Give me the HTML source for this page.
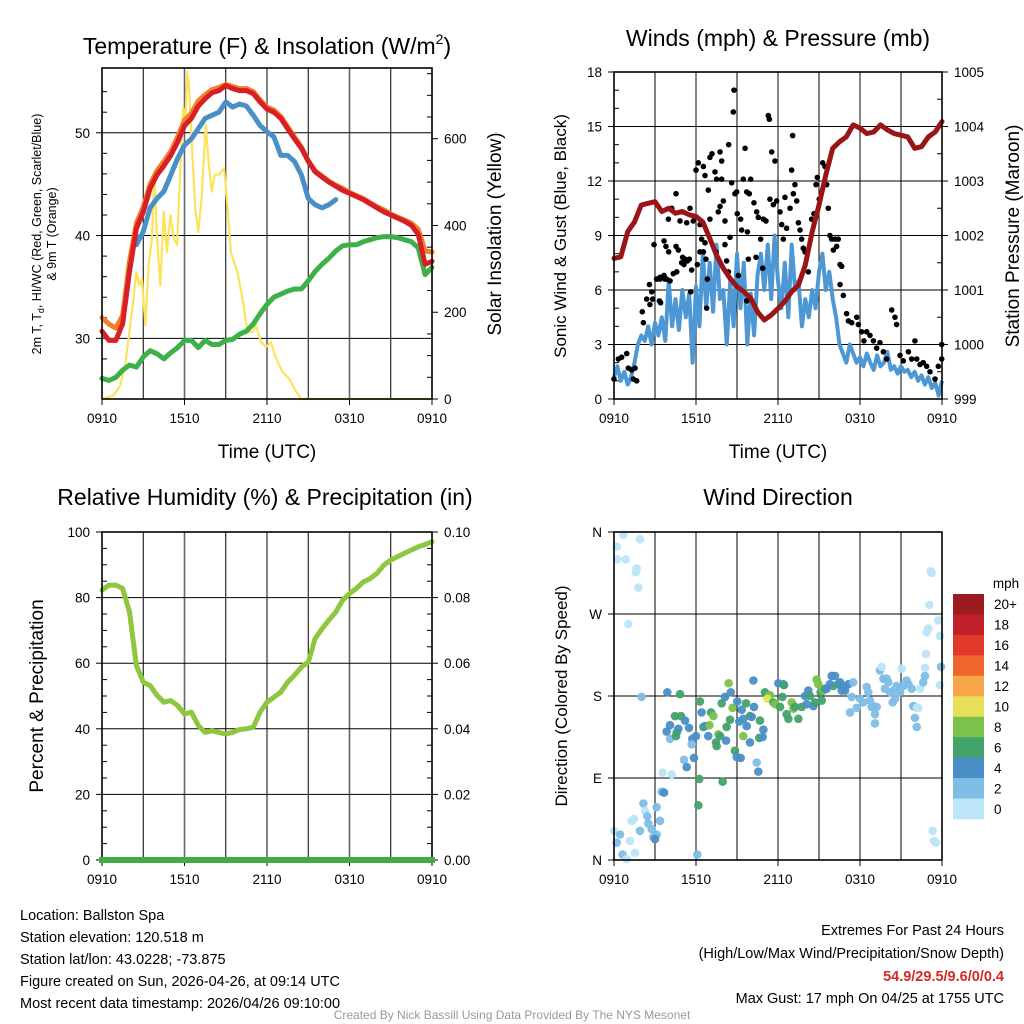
<!DOCTYPE html>
<html><head><meta charset="utf-8"><style>
html,body{margin:0;padding:0;background:#fff;}
svg{display:block;font-family:"Liberation Sans",sans-serif;}
</style></head><body>
<svg id="root" width="1024" height="1024" viewBox="0 0 1024 1024">
<rect width="1024" height="1024" fill="#fff"/>
<g id="layer"></g>
<text x="267" y="54" font-size="23" text-anchor="middle">Temperature (F) &amp; Insolation (W/m<tspan font-size="14" dy="-10">2</tspan><tspan dy="10">)</tspan></text>
<text x="778" y="46" font-size="23" text-anchor="middle">Winds (mph) &amp; Pressure (mb)</text>
<text x="265" y="505" font-size="23" text-anchor="middle">Relative Humidity (%) &amp; Precipitation (in)</text>
<text x="778" y="505" font-size="23" text-anchor="middle">Wind Direction</text>
<text x="267" y="458" font-size="19" text-anchor="middle">Time (UTC)</text>
<text x="778" y="458" font-size="19" text-anchor="middle">Time (UTC)</text>
<text transform="translate(41,234) rotate(-90)" font-size="12.5" text-anchor="middle">2m T, T<tspan font-size="9" dy="3">d</tspan><tspan dy="-3">, HI/WC (Red, Green, Scarlet/Blue)</tspan></text>
<text transform="translate(56,234) rotate(-90)" font-size="12.5" text-anchor="middle">&amp; 9m T (Orange)</text>
<text transform="translate(501,234) rotate(-90)" font-size="19" text-anchor="middle">Solar Insolation (Yellow)</text>
<text transform="translate(566,236) rotate(-90)" font-size="17" text-anchor="middle">Sonic Wind &amp; Gust (Blue, Black)</text>
<text transform="translate(1019,236) rotate(-90)" font-size="19" text-anchor="middle">Station Pressure (Maroon)</text>
<text transform="translate(43,696) rotate(-90)" font-size="19" text-anchor="middle">Percent &amp; Precipitation</text>
<text transform="translate(567,696) rotate(-90)" font-size="17" text-anchor="middle">Direction (Colored By Speed)</text>
<g font-size="14.5">
<text x="20" y="920">Location: Ballston Spa</text>
<text x="20" y="942">Station elevation: 120.518 m</text>
<text x="20" y="964">Station lat/lon: 43.0228; -73.875</text>
<text x="20" y="986">Figure created on Sun, 2026-04-26, at 09:14 UTC</text>
<text x="20" y="1008">Most recent data timestamp: 2026/04/26 09:10:00</text>
</g>
<g font-size="14.5" text-anchor="end">
<text x="1004" y="935">Extremes For Past 24 Hours</text>
<text x="1004" y="958">(High/Low/Max Wind/Precipitation/Snow Depth)</text>
<text x="1004" y="981" fill="#d42a2a" font-weight="bold">54.9/29.5/9.6/0/0.4</text>
<text x="1004" y="1003">Max Gust: 17 mph On 04/25 at 1755 UTC</text>
</g>
<text x="512" y="1019" font-size="12" fill="#999" text-anchor="middle">Created By Nick Bassill Using Data Provided By The NYS Mesonet</text>
</svg>
<script>
// ---------- data ----------
const xTickLabels = ["0910","1510","2110","0310","0910"];
const tempRed = [30.7,29.8,29.8,31.4,36.5,40.7,42.3,44.6,45.9,46.8,47.8,49.1,50.7,51.4,52.6,53.3,53.9,54.1,54.6,54.3,54.1,54.1,53.8,53.0,52.3,52.0,51.4,50.4,49.4,48.5,47.2,46.2,45.7,45.2,44.8,44.4,44.1,43.8,43.5,43.1,42.7,42.3,42.0,41.7,41.4,41.0,40.1,37.2,37.5];
const tempOrange = [32.0,31.4,31.0,32.2,37.5,41.2,42.8,45.0,46.3,47.2,48.2,49.6,51.2,51.9,53.1,53.7,54.2,54.4,54.7,54.5,54.3,54.3,54.0,53.2,52.5,52.2,51.6,50.6,49.6,48.6,47.3,46.3,45.8,45.3,44.9,44.6,44.2,43.9,43.6,43.2,42.8,42.5,42.1,41.8,41.5,41.2,40.6,38.5,38.4];
const tempBlue = [null,null,null,null,null,39.1,40.4,42.7,43.6,44.3,45.9,47.5,48.8,49.4,50.4,51.4,51.7,52.0,53.0,52.5,52.8,52.6,51.7,50.7,50.1,49.6,47.8,47.8,47.2,45.9,43.6,43.0,42.7,43.0,43.5,null,42.8,null,null,null,null,41.4,null,null,null,null,null,null,null];
const dewGreen = [26.1,25.9,26.2,26.9,27.4,27.2,28.2,28.8,28.5,28.0,28.6,29.1,29.8,29.8,29.1,29.8,29.4,29.4,29.8,29.9,30.4,30.7,31.4,32.4,33.3,34.0,34.3,34.6,34.8,34.8,35.6,36.5,37.2,37.8,38.5,39.0,39.1,39.1,39.4,39.6,39.8,39.9,39.9,39.8,39.6,39.4,38.8,36.2,36.9];
const solarHours = [0,0.83,1.32,1.68,2.05,2.29,2.49,2.73,2.9,3.15,3.39,3.63,3.8,4.0,4.24,4.49,4.73,4.98,5.22,5.46,5.71,5.9,6.07,6.2,6.32,6.56,6.8,7.0,7.24,7.54,7.73,7.98,8.22,8.51,8.88,9.12,9.37,9.85,10.22,10.59,10.95,11.2,11.56,11.93,12.29,12.66,13.15,13.63,14.0,14.49,24];
const solarVals = [0,8,31,77,170,231,293,262,278,170,308,370,524,370,262,432,339,424,370,355,540,671,648,755,725,570,432,385,462,632,555,478,517,517,532,447,339,293,231,154,154,170,131,120,131,93,62,46,23,0,0];
const windSpeed = [1.2,1.8,1.0,1.5,0.8,1.2,2.0,3.0,3.5,3.2,4.0,3.0,4.2,3.5,4.5,3.2,6.5,4.0,5.5,3.8,6.0,4.5,5.8,2.0,6.2,4.0,8.0,5.0,7.5,4.8,8.5,5.5,6.0,3.0,6.5,4.0,8.0,5.0,7.5,3.0,5.8,3.5,6.8,8.0,6.0,8.5,5.5,9.0,6.5,5.0,7.5,4.5,8.5,6.0,6.5,4.0,5.5,4.5,6.0,5.0,7.0,8.0,6.0,7.0,5.5,4.5,3.0,2.5,2.0,3.0,2.5,2.0,2.3,1.8,2.5,2.0,1.6,2.4,1.8,2.0,2.6,1.6,1.8,1.4,1.8,1.5,1.6,1.2,1.5,1.0,1.3,0.8,1.2,0.6,0.9,0.2,1.0];
const pressure = [1001.58,1001.61,1002.07,1002.25,1002.56,1002.59,1002.62,1002.44,1002.50,1002.41,1002.44,1002.38,1002.35,1002.25,1001.95,1001.64,1001.40,1001.21,1001.06,1000.97,1000.85,1000.60,1000.45,1000.54,1000.66,1000.79,1000.97,1001.09,1001.46,1002.07,1002.56,1003.11,1003.60,1003.72,1003.81,1004.03,1003.97,1003.87,1003.90,1004.03,1003.94,1003.87,1003.84,1003.81,1003.60,1003.63,1003.81,1003.90,1004.09];
const gustHours = [0,0.32,0.56,0.93,1.05,1.29,1.54,1.66,1.41,2.07,2.15,2.39,2.59,2.76,2.83,3.32,3.41,3.12,3.37,3.66,3.85,4.10,2.93,3.66,3.80,4.00,4.54,4.71,5.02,5.20,5.37,5.51,5.12,4.95,4.34,5.61,6.10,6.29,6.41,6.00,6.17,6.54,6.66,6.90,7.02,7.17,7.39,7.51,7.63,7.76,7.88,8.00,8.12,7.76,7.88,8.39,8.61,8.73,8.78,8.85,8.98,9.02,9.27,9.46,9.59,9.71,9.90,10.00,10.24,10.44,10.56,10.73,10.93,11.12,11.29,11.37,11.41,11.54,11.66,11.78,11.90,12.15,12.27,12.39,12.51,12.63,12.88,13.00,13.07,13.12,13.24,13.37,13.49,13.61,13.73,13.85,13.98,14.22,14.46,14.63,14.78,14.88,15.02,15.27,15.44,15.56,15.68,15.80,15.93,16.05,16.17,16.29,16.41,16.54,16.66,16.54,16.78,17.02,17.15,17.39,17.76,17.88,18.12,18.29,18.49,18.73,18.98,19.22,19.46,19.71,19.95,20.32,20.56,20.68,20.93,21.17,21.54,21.78,22.02,22.15,22.39,22.63,22.88,23.12,23.49,23.73,23.98,23.98,6.29,6.66,7.02,5.56,5.80,5.32,4.83,4.95,4.22,4.54,3.98,8.12,8.49,9.10,9.83,10.88,10.39,9.34,9.76,8.37,8.24,7.46,6.73,6.54,6.83,5.68,9.71,6.78,4.59,3.37,3.73,2.63];
const gustVals = [1.1,2.2,2.3,2.5,1.7,1.6,1.7,1.0,1.1,4.8,4.2,5.5,6.3,5.9,5.5,5.4,5.3,6.6,6.7,6.8,6.6,6.5,8.5,8.7,8.4,8.1,8.4,8.2,7.8,7.7,7.6,7.7,7.4,7.5,6.9,5.9,7.4,8.1,8.8,12.6,13.0,12.8,12.3,11.5,13.3,13.5,12.5,12.1,10.3,10.6,12.1,10.9,9.8,13.6,13.1,14.0,11.9,15.8,17.0,11.3,11.4,10.2,9.9,12.1,13.8,11.4,11.3,12.1,10.8,10.3,10.0,8.8,9.9,9.8,15.6,15.4,11.0,13.6,10.7,13.1,10.9,10.3,9.6,8.8,11.1,9.4,10.5,12.6,14.5,11.3,11.8,10.9,9.7,9.3,8.8,8.3,8.1,7.0,9.9,10.2,11.8,12.2,11.0,13.0,12.8,11.8,10.5,9.0,8.8,8.2,8.8,8.4,8.8,7.4,7.3,6.3,5.7,4.7,4.3,4.2,4.5,4.1,3.7,3.2,3.7,3.5,3.2,2.8,3.1,2.6,2.2,4.9,4.5,4.1,2.4,2.1,2.6,2.2,3.2,2.2,1.9,2.0,1.8,1.5,1.1,1.8,3.0,2.2,9.6,8.6,9.9,10.5,9.8,9.7,9.8,10.3,10.5,11.3,9.9,8.5,8.9,6.8,7.7,7.2,7.8,9.3,9.2,7.0,7.6,8.1,7.7,8.1,6.6,7.1,5.4,5.0,7.0,6.6,6.6,5.2];
const relHum = [82.3,83.8,83.8,82.8,75.6,59.3,54.2,53.2,50.2,48.1,48.6,47.1,44.5,45.1,41.0,38.9,39.4,38.9,38.4,38.9,39.8,40.0,40.5,45.1,48.1,49.6,51.2,54.2,56.3,58.8,60.3,67.5,70.5,73.1,75.6,79.2,81.2,82.8,84.8,85.8,87.4,89.9,91.4,92.5,93.5,94.5,95.5,96.2,97.0];
const precip = [0,0,0,0,0,0,0,0,0,0,0,0,0,0,0,0,0,0,0,0,0,0,0,0,0,0,0,0,0,0,0,0,0,0,0,0,0,0,0,0,0,0,0,0,0,0,0,0,0];
const dirHours = [0.68,0.20,0.24,0.85,1.66,1.61,1.90,1.78,1.05,0.0,0.44,0.2,0.63,0.93,1.17,1.29,1.46,1.54,1.90,2.15,2.27,2.44,2.51,2.76,2.88,3.12,3.0,3.37,3.12,3.49,3.66,3.56,4.22,6.10,2.02,3.90,4.83,4.46,4.90,5.20,4.10,3.85,4.59,4.71,5.49,4.10,4.54,5.73,5.68,6.0,5.85,5.12,5.32,6.29,6.41,7.10,7.27,6.54,6.66,6.98,6.90,7.46,7.63,7.76,7.51,8.20,8.24,8.49,8.68,7.88,8.12,8.54,8.39,9.02,9.34,9.66,9.71,9.46,9.17,8.85,8.98,9.27,9.95,10.07,10.24,10.68,10.93,10.63,10.88,9.46,9.95,10.44,10.56,10.20,6.24,7.95,6.17,11.05,11.41,11.22,11.66,11.80,12.02,12.39,12.44,12.32,12.15,12.63,12.76,13.0,13.12,13.24,13.49,13.73,13.98,14.10,14.22,14.34,14.59,14.71,14.83,14.95,15.12,15.32,15.44,15.20,15.56,15.93,16.17,16.05,16.41,16.54,16.66,16.90,17.15,17.51,17.39,16.78,15.80,17.27,17.76,18.0,18.24,18.49,18.61,18.73,18.98,19.10,18.85,19.22,19.10,19.46,19.59,19.71,19.95,20.07,19.83,20.20,20.44,20.68,20.80,20.93,20.56,20.39,21.05,21.17,21.41,21.54,21.78,21.90,22.02,22.15,22.27,22.02,22.15,22.39,22.63,22.76,22.76,23.17,23.24,23.07,23.73,22.88,23.0,23.85,22.83,23.93,23.85,23.32,23.41,23.56];
const dirVals = [357,344,330,330,320,316,352,299,259,32,28,19,6,1,21,43,45,8,32,62,54,48,40,34,25,28,23,43,58,75,74,96,94,6,179,184,182,158,158,153,148,141,140,144,145,133,136,133,127,136,112,110,102,174,162,162,158,146,147,148,136,129,138,136,125,131,146,154,167,172,179,184,194,174,165,172,147,155,152,120,113,112,158,157,168,153,143,134,135,136,129,107,97,197,89,86,60,184,181,177,173,171,194,193,192,179,168,160,155,173,166,168,155,168,180,171,186,180,169,173,198,193,184,186,188,175,188,202,202,191,193,195,186,186,193,195,179,191,193,162,167,177,173,190,184,175,169,160,168,168,150,208,212,199,199,195,188,184,186,191,188,184,177,173,210,191,197,193,188,169,168,167,167,156,146,188,195,202,211,317,315,280,263,250,254,246,226,212,192,32,21,19];
const dirSpeed = [1,1,1,1,1,1,1,1,1,1,3,3,3,1,1,1,1,1,3,3,1,3,3,3,3,3,5,3,3,3,5,1,1,3,3,5,7,7,7,5,5,5,7,5,5,3,7,5,3,5,5,3,5,7,5,7,9,7,5,9,5,7,9,7,7,5,7,7,9,7,5,5,9,5,5,7,5,5,5,7,5,5,7,5,5,7,5,7,5,9,5,3,5,5,7,7,7,7,9,11,7,9,5,5,7,7,7,7,7,9,9,7,7,7,5,5,5,7,5,7,9,9,7,9,7,7,5,5,5,7,7,5,5,5,5,3,3,5,5,3,3,3,3,3,3,3,3,3,3,3,3,3,1,3,3,3,3,3,3,3,3,3,3,3,1,3,3,3,3,3,3,1,1,3,3,1,3,3,1,1,1,1,1,1,1,1,1,3,1,1,1,1];
const speedLabels = ["20+","18","16","14","12","10","8","6","4","2","0"];
const speedColors = ["#9b1b1f","#c0202a","#e0392c","#f0652b","#f7a64a","#e8e05a","#7cc24a","#42a26a","#4a8ec6","#7fbde6","#bce5f8"];

// ---------- helpers ----------
const NS = "http://www.w3.org/2000/svg";
const layer = document.getElementById("layer");
function mk(tag, attrs, parent){ const e=document.createElementNS(NS,tag); for(const k in attrs) e.setAttribute(k,attrs[k]); (parent||layer).appendChild(e); return e; }
function lin(d0,d1,r0,r1){ return v => r0+(v-d0)/(d1-d0)*(r1-r0); }
function pathD(xs, ys, xf, yf){ let d="", pen=false; for(let i=0;i<xs.length;i++){ if(ys[i]===null||ys[i]===undefined){pen=false;continue;} d+=(pen?"L":"M")+xf(xs[i]).toFixed(1)+","+yf(ys[i]).toFixed(1); pen=true; } return d; }
function seq(n, step){ const a=[]; for(let i=0;i<n;i++) a.push(i*step); return a; }
const halfHours = seq(49,0.5);
const quarterHours = seq(97,0.25);

function panel(p){
  const g = mk("g",{});
  
  
  const xs = lin(0,24,p.x0,p.x1);
  // vertical grid every 3h
  for(let h=3; h<24; h+=3){
    const major = h%6===0;
    const l = mk("line",{x1:xs(h),x2:xs(h),y1:p.y0,y2:p.y1,stroke:major?"#666":"#000","stroke-width":major?1.6:1},g);
    
    
  }
  // horizontal grid
  p.gridY.forEach(v=>{
    const y=p.ly(v);
    const l = mk("line",{x1:p.x0,x2:p.x1,y1:y,y2:y,stroke:"#000","stroke-width":1},g);
    
    
  });
  // x ticks/labels
  xTickLabels.forEach((lab,i)=>{
    const x=xs(i*6);
    mk("line",{x1:x,x2:x,y1:p.y1,y2:p.y1+6,stroke:"#000"},g);
    const t=mk("text",{x:x,y:p.y1+24,"font-size":13.5,"text-anchor":"middle"},g); t.textContent=lab;
    
    
  });
  p.leftTicks.forEach(v=>{
    const y=p.ly(typeof v==="number"?v:v[0]);
    mk("line",{x1:p.x0-6,x2:p.x0,y1:y,y2:y,stroke:"#000"},g);
    const t=mk("text",{x:p.x0-12,y:y+5,"font-size":13.5,"text-anchor":"end"},g); t.textContent=typeof v==="number"?v:v[1];
    
    
  });
  (p.leftMinor||[]).forEach(v=>{ const y=p.ly(v); mk("line",{x1:p.x0,x2:p.x0+5,y1:y,y2:y,stroke:"#000"},g); });
  if(p.rightTicks){
    p.rightTicks.forEach(v=>{
      const y=p.ry(v[0]);
      mk("line",{x1:p.x1,x2:p.x1+6,y1:y,y2:y,stroke:"#000"},g);
      const t=mk("text",{x:p.x1+12,y:y+5,"font-size":13.5,"text-anchor":"start"},g); t.textContent=v[1];
      
      
    });
    (p.rightMinor||[]).forEach(v=>{ const y=p.ry(v); mk("line",{x1:p.x1-5,x2:p.x1,y1:y,y2:y,stroke:"#000"},g); });
  }
  return {g, xs};
}
function frame(p,g){
  const r=mk("rect",{x:p.x0,y:p.y0,width:p.x1-p.x0,height:p.y1-p.y0,fill:"none",stroke:"#000","stroke-width":1.6},g);
  
  
}

// ---------- panel 1: temperature ----------
{
  const p={name:"temperature",x0:102,x1:432,y0:68,y1:399};
  p.ly=lin(24.1,56.3,p.y1,p.y0); p.ry=lin(0,763,p.y1,p.y0);
  p.gridY=[30,40,50]; p.leftTicks=[30,40,50]; p.leftMinor=[26,28,32,34,36,38,42,44,46,48,52,54];
  p.rightTicks=[[0,"0"],[200,"200"],[400,"400"],[600,"600"]]; p.rightMinor=[50,100,150,250,300,350,450,500,550,650,700,750];
  const {g,xs}=panel(p);
  const sol=mk("path",{d:pathD(solarHours,solarVals,xs,p.ry),fill:"none",stroke:"#fde35a","stroke-width":2.2,"stroke-linejoin":"round"},g);
  
  
  const grn=mk("path",{d:pathD(halfHours,dewGreen,xs,p.ly),fill:"none",stroke:"#3eb04a","stroke-width":5,"stroke-linejoin":"round","stroke-linecap":"round"},g);
  
  
  const blu=mk("path",{d:pathD(halfHours,tempBlue,xs,p.ly),fill:"none",stroke:"#4a90c8","stroke-width":5,"stroke-linejoin":"round","stroke-linecap":"round"},g);
  
  
  const org=mk("path",{d:pathD(halfHours,tempOrange,xs,p.ly),fill:"none",stroke:"#f47f2a","stroke-width":5,"stroke-linejoin":"round","stroke-linecap":"round"},g);
  
  
  const red=mk("path",{d:pathD(halfHours,tempRed,xs,p.ly),fill:"none",stroke:"#d61f26","stroke-width":5,"stroke-linejoin":"round","stroke-linecap":"round"},g);
  
  
  frame(p,g);
}
// ---------- panel 2: winds ----------
{
  const p={name:"winds",x0:614,x1:942,y0:72,y1:399};
  p.ly=lin(0,18,p.y1,p.y0); p.ry=lin(999,1005,p.y1,p.y0);
  p.gridY=[3,6,9,12,15]; p.leftTicks=[0,3,6,9,12,15,18]; p.leftMinor=[1,2,4,5,7,8,10,11,13,14,16,17];
  p.rightTicks=[[999,"999"],[1000,"1000"],[1001,"1001"],[1002,"1002"],[1003,"1003"],[1004,"1004"],[1005,"1005"]];
  p.rightMinor=[999.5,1000.5,1001.5,1002.5,1003.5,1004.5];
  const {g,xs}=panel(p);
  const w=mk("path",{d:pathD(quarterHours,windSpeed,xs,p.ly),fill:"none",stroke:"#4d98d4","stroke-width":4,"stroke-linejoin":"round"},g);
  
  
  for(let i=0;i<gustHours.length;i++){
    const c=mk("circle",{cx:xs(gustHours[i]),cy:p.ly(gustVals[i]),r:2.8,fill:"#000"},g);
    
    
  }
  const pr=mk("path",{d:pathD(halfHours,pressure,xs,p.ry),fill:"none",stroke:"#9b1416","stroke-width":5,"stroke-linejoin":"round","stroke-linecap":"round"},g);
  
  
  frame(p,g);
}
// ---------- panel 3: RH ----------
{
  const p={name:"humidity",x0:102,x1:432,y0:532,y1:860};
  p.ly=lin(0,100,p.y1,p.y0); p.ry=lin(0,0.1,p.y1,p.y0);
  p.gridY=[20,40,60,80]; p.leftTicks=[0,20,40,60,80,100]; p.leftMinor=[5,10,15,25,30,35,45,50,55,65,70,75,85,90,95];
  p.rightTicks=[[0,"0.00"],[0.02,"0.02"],[0.04,"0.04"],[0.06,"0.06"],[0.08,"0.08"],[0.1,"0.10"]];
  p.rightMinor=[0.005,0.01,0.015,0.025,0.03,0.035,0.045,0.05,0.055,0.065,0.07,0.075,0.085,0.09,0.095];
  const {g,xs}=panel(p);
  const rh=mk("path",{d:pathD(halfHours,relHum,xs,p.ly),fill:"none",stroke:"#8dc63f","stroke-width":5,"stroke-linejoin":"round","stroke-linecap":"round"},g);
  
  
  frame(p,g);
  const pc=mk("path",{d:pathD(halfHours,precip,xs,p.ry),fill:"none",stroke:"#3fac45","stroke-width":6,"stroke-linecap":"square"},g);
  
  
}
// ---------- panel 4: direction ----------
{
  const p={name:"direction",x0:614,x1:942,y0:532,y1:860};
  p.ly=lin(0,360,p.y1,p.y0);
  p.gridY=[90,180,270]; p.leftTicks=[[0,"N"],[90,"E"],[180,"S"],[270,"W"],[360,"N"]];
  const {g,xs}=panel(p);
  function colorFor(s){ const idx=Math.min(10,Math.floor(s/2)); return speedColors[10-idx]; }
  for(let i=0;i<dirHours.length;i++){
    const c=mk("circle",{cx:xs(dirHours[i]),cy:p.ly(dirVals[i]),r:4.3,fill:colorFor(dirSpeed[i]),"fill-opacity":0.95},g);
    
    
  }
  frame(p,g);
  // colorbar
  const cb=mk("g",{},layer);
  
  
  const t=mk("text",{x:1006,y:588,"font-size":13.5,"text-anchor":"middle"},cb); t.textContent="mph";
  
  
  const bh=(819-594)/speedLabels.length;
  speedLabels.forEach((lab,i)=>{
    const r=mk("rect",{x:953,y:594+i*bh,width:31,height:bh+0.3,fill:speedColors[i]},cb);
    
    
    const tx=mk("text",{x:994,y:594+i*bh+bh/2+5,"font-size":13.5},cb); tx.textContent=lab;
    
    
  });
}
</script>
</body></html>
